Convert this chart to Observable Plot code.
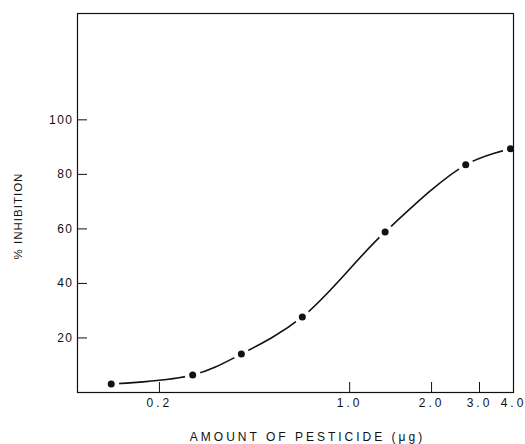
<!DOCTYPE html>
<html><head><meta charset="utf-8">
<script src="https://cdn.jsdelivr.net/npm/d3@7"></script>
<script src="https://cdn.jsdelivr.net/npm/@observablehq/plot@0.6"></script>
<style>body{margin:0;background:#fff}</style>
</head><body><div id="chart"></div>
<script>
const doses = [0.133, 0.265, 0.40, 0.67, 1.35, 2.67, 3.9];
const inhibition = [3.1, 6.4, 14.1, 27.7, 58.9, 83.5, 89.4];
const xTicks = [0.2, 1, 2, 3, 4];
const xTickLabels = ["0.2", "1.0", "2.0", "3.0", "4.0"];
const yTicks = [20, 40, 60, 80, 100];
const xLabel = "AMOUNT OF PESTICIDE (\u03bcg)";
const yLabel = "% INHIBITION";

const data = doses.map((d, i) => ({dose: d, inh: inhibition[i]}));

const chart = Plot.plot({
  width: 525, height: 444,
  marginLeft: 77, marginRight: 12, marginTop: 13, marginBottom: 52,
  style: {fontFamily: "Liberation Sans, Arial, sans-serif", fontSize: "12px", letterSpacing: "1.5px", color: "#111", background: "#fff"},
  x: {type: "log", domain: [0.1, 4.0]},
  y: {domain: [0, 139]},
  marks: [
    Plot.line(data, {x: "dose", y: "inh", curve: "catmull-rom", stroke: "#111", strokeWidth: 1.6}),
    Plot.dot(data, {x: "dose", y: "inh", r: 8, fill: "#fff", stroke: "none"}),
    Plot.frame({stroke: "#111", strokeWidth: 1.2}),
    Plot.axisX(xTicks, {tickSize: -10, tickPadding: 16, tickFormat: d => xTickLabels[xTicks.indexOf(d)], label: null, fontSize: 12}),
    Plot.axisY(yTicks, {tickSize: -10, tickPadding: 14, label: null, fontSize: 12}),
    Plot.text([xLabel], {frameAnchor: "bottom", dy: 48, fontSize: 12, text: d => d}),
    Plot.text([yLabel], {frameAnchor: "left", textAnchor: "middle", dx: -59, rotate: -90, fontSize: 11.5, text: d => d}),
    Plot.dot(data, {x: "dose", y: "inh", r: 3.5, fill: "#111", stroke: "none"})
  ]
});
const s = d3.select(chart);
s.selectAll("text").each(function() {
  const t = this.textContent;
  const el = d3.select(this);
  if (xTickLabels.includes(t)) el.style("letter-spacing", "3px");
  else if (t === xLabel) {
    el.style("letter-spacing", "3px");
    el.attr("transform", "translate(12,0) " + (el.attr("transform") || ""));
  }
  else if (t === yLabel) {
    el.style("letter-spacing", "1px");
    el.attr("transform", "translate(0,13) " + (el.attr("transform") || ""));
  }
});
document.getElementById("chart").appendChild(chart);
</script>
</body></html>
